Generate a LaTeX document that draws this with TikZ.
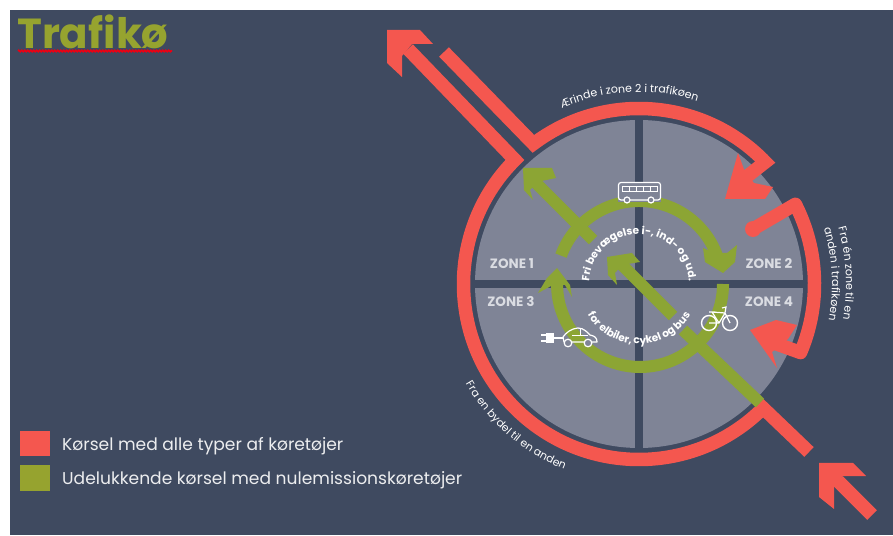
\documentclass[tikz,border=0pt]{standalone}
\usepackage{fontspec}
\setmainfont{Poppins}
\usetikzlibrary{decorations.text,decorations.pathmorphing,calc}
\definecolor{bgc}{HTML}{3F4A60}
\definecolor{redc}{HTML}{F4574F}
\definecolor{greenc}{HTML}{8CA534}
\definecolor{grayc}{HTML}{7F8496}
\definecolor{titlec}{HTML}{96A32F}
\definecolor{zonec}{HTML}{DADCE2}
\tikzset{
 x=1pt,y=1pt,
 redroad/.style={draw=redc,line width=13.5pt,line join=round},
 greenroad/.style={draw=greenc,line width=12pt},
 redhead/.style={fill=redc},
 greenhead/.style={fill=greenc},
 zonelabel/.style={text=zonec,font=\fontsize{13.5}{14}\selectfont\bfseries,anchor=center,inner sep=0},
 icon/.style={draw=white,line width=1.2pt},
}
\newcommand{\arctext}[6]{%
 \path[postaction={decorate,decoration={text along path,text align=center,
   text color=white,text={|\fontsize{#5}{10}\selectfont#6|#4}}}]
   ($(C)+(#1:#3)$) arc (#1:#2:#3);}
\begin{document}
\begin{tikzpicture}
\useasboundingbox (0,0) rectangle (893,535);
\fill[white] (0,0) rectangle (893,535);
\fill[bgc] (10,0) rectangle (893,525);
\coordinate (C) at (639,251);
% disc
\fill[grayc] (C) circle (164);
\fill[bgc] (635,85) rectangle (643,417);
\fill[bgc] (473,247) rectangle (805,255);
% red roads
\draw[redroad,line join=miter] (444,483) -- ($(C)+(127:175.5)$) arc (127:44:175.5) -- (745,357);
\fill[redhead] (725,336) -- (738,382) -- (745,363) -- (754,352) -- (773,348) -- (765,336) -- cycle;
\draw[redroad] (753,306) -- ($(C)+(27:175.5)$) arc (27:-23:175.5) -- (774,192);
\fill[redc] (753,306) circle (8);
\fill[redhead] (750,205) -- (776,215) -- (797,210) -- (788,196) -- (772,183) -- (777,167) -- cycle;
\draw[redroad,line join=miter] (809,83) -- ($(C)+(-45:175.5)$) arc (-45:-225:175.5) -- (408,486);
\fill[redhead] (387,505) -- (420,505) -- (433,491) -- (412,491) -- (402,479) -- (402,458) -- (387,472) -- cycle;
\draw[redc,line width=13.5pt] (872,20) -- (838,54);
\fill[redhead] (819,72) -- (853,72) -- (866,59) -- (843,59) -- (834,48) -- (834,26) -- (819,38) -- cycle;
% green
\draw[greenroad] ($(C)+(160:83)$) arc (160:17:83);
\fill[greenhead] (703,287) -- (705,273) -- (723,262) -- (735,273) -- (737,290) -- (727,282) -- (715,282) -- cycle;
\draw[greenroad] ($(C)+(0:84)$) arc (0:-181:83);
\fill[greenhead] (557,267) -- (547,257) -- (538,242) -- (553,250) -- (565,250) -- (572,238) -- (570,250) -- cycle;
\draw[greenroad] (593,295) -- (535,353);
\fill[greenhead] (523,367) -- (552,367) -- (556,357) -- (537,353) -- (530,345) -- (533,335) -- (524,345) -- cycle;
\draw[greenroad] (760,132) -- (683,205);
\draw[greenroad] (673,219) -- (618,274);
\fill[greenhead] (607,278) -- (632,282) -- (640,273) -- (622,270) -- (615,262) -- (617,250) -- (608,260) -- cycle;
% icons
\fill[grayc] (618,333) rectangle (661,353);
\draw[icon,rounded corners=2.5pt] (618.5,335) rectangle (660.5,352.5);
\draw[white,line width=1pt] (622,343) rectangle (657,348);
\foreach \i in {629,636,643,650} \draw[white,line width=.8pt] (\i,343) -- (\i,348);
\foreach \i in {627,651}{\fill[grayc] (\i,335) circle (3);\draw[white,line width=1.2pt] (\i,335) circle (3);}
% car
\draw[icon,line width=1.2pt,line join=round] (564,193) -- (563,198) .. controls (566,202) and (570,206) .. (578,207) .. controls (584,207) and (588,202) .. (590,200) .. controls (595,199) and (597,197) .. (597,193) -- cycle;
\draw[white,line width=.8pt] (572,200) -- (588,200) (580,207) -- (580,200);
\foreach \i in {568,588}{\fill[grayc] (\i,192) circle (3.8);\draw[white,line width=1.2pt] (\i,192) circle (3.8);}
\fill[white] (546,192) rectangle (554,202);
\draw[white,line width=1.2pt] (541,194) -- (547,194) (541,200) -- (547,200) (553,197) -- (563,197);
% bike
\draw[icon,line width=1.4pt] (709,212) circle (7.5) (730,212) circle (7.5);
\draw[white,line width=1.2pt] (709,212) -- (719,212) -- (725,222) -- (730,212) (725,222) -- (726,228) -- (722,227) (712,223) -- (719,212) (709,223) -- (715,223) (712,223) -- (725,222);
% labels
\node[zonelabel] (z1) at (512,271) {ZONE 1};
\node[zonelabel] (z2) at (769,271) {ZONE 2};
\node[zonelabel] (z3) at (511,233) {ZONE 3};
\node[zonelabel] (z4) at (769,233) {ZONE 4};
\arctext{180}{0}{50}{Fri bevægelse i-, ind- og ud.}{10.5}{\bfseries}
\arctext{-180}{0}{60}{for elbiler, cykel og bus}{10.5}{\bfseries}
\arctext{120}{66}{192}{Ærinde i zone 2 i trafikøen}{11}{}
\arctext{22}{-16}{207}{Fra én zone til en}{11}{}
\arctext{22}{-16}{193}{anden i trafikøen}{11}{}
\arctext{203}{255}{200}{Fra en bydel til en anden}{10.8}{}
% title
\node[anchor=base west,inner sep=0,text=titlec,font=\fontsize{42}{44}\selectfont\bfseries] (title) at (17,486) {Trafikø};
\draw[red!70!purple,line width=1.6pt,decorate,decoration={zigzag,segment length=3pt,amplitude=.7pt}] (18,484) -- (172,484);
% legend
\fill[redc] (20,79) rectangle (50,104);
\fill[titlec] (20,44) rectangle (50,70);
\node[anchor=west,inner sep=0,text=white!90!bgc,font=\fontsize{17.1}{20}\selectfont] (l1) at (62,89) {Kørsel med alle typer af køretøjer};
\node[anchor=west,inner sep=0,text=white!90!bgc,font=\fontsize{17.1}{20}\selectfont] (l2) at (62,55) {Udelukkende kørsel med nulemissionskøretøjer};
\end{tikzpicture}
\end{document}
